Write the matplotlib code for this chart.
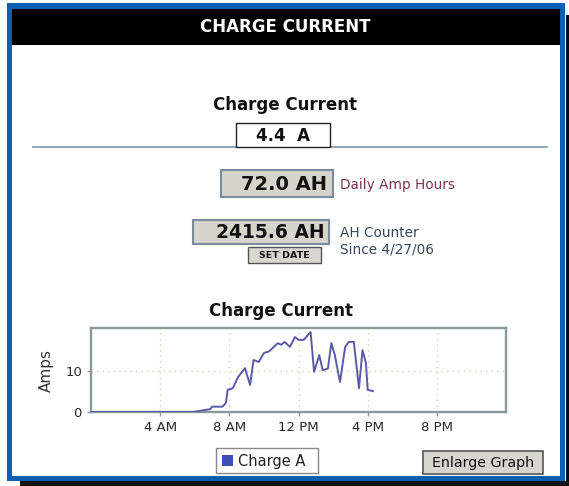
import matplotlib
matplotlib.use("Agg")
import matplotlib.pyplot as plt
from matplotlib.patches import Rectangle

# ---- data ----
hours = [0, 5.9, 6.9, 7.0, 7.6, 7.8, 7.9, 8.2, 8.5, 8.9, 9.2, 9.4, 9.7, 10.0, 10.3,
         10.8, 11.0, 11.2, 11.5, 11.8, 12.0, 12.3, 12.7, 12.9, 13.2, 13.4, 13.7,
         13.9, 14.1, 14.4, 14.7, 14.9, 15.2, 15.5, 15.7, 15.9, 16.0, 16.3]
amps = [0, 0, 0.7, 1.3, 1.3, 2.2, 5.4, 5.8, 8.5, 10.7, 6.6, 12.7, 12.2, 14.4, 14.8,
        16.8, 16.4, 17.1, 15.9, 18.3, 17.6, 17.6, 19.5, 9.8, 13.9, 10.2, 10.6,
        16.8, 13.9, 7.3, 15.9, 17.1, 17.1, 5.8, 15.1, 12.0, 5.4, 5.1]
x_ticks = [4, 8, 12, 16, 20]
x_tick_labels = ["4 AM", "8 AM", "12 PM", "4 PM", "8 PM"]
y_ticks = [0, 10]
panel_title = "CHARGE CURRENT"
current_label = "Charge Current"
current_value = "4.4  A"
daily_ah = "72.0 AH"
daily_label = "Daily Amp Hours"
counter_ah = "2415.6 AH"
counter_label = ["AH Counter", "Since 4/27/06"]
series_name = "Charge A"

W, H = 569, 486
fig = plt.figure(figsize=(W / 100, H / 100), dpi=100)
fig.patch.set_facecolor("white")

bg = fig.add_axes([0, 0, 1, 1])
bg.set_xlim(0, W)
bg.set_ylim(H, 0)
bg.axis("off")

def rect(x0, y0, x1, y1, fc, ec="none", lw=0, z=1):
    bg.add_patch(Rectangle((x0, y0), x1 - x0, y1 - y0, facecolor=fc,
                           edgecolor=ec, linewidth=lw, zorder=z))

# shadow
rect(566, 15, 569, 486, "#0a0a0a")
rect(20, 481, 569, 486, "#111111")
# blue frame
rect(7, 3, 565, 481, "#0d5fb0")
rect(12, 9, 560, 476, "white")
# header
rect(12, 9, 560, 45, "black")
bg.text(285, 27, panel_title, color="white", fontsize=12, fontweight="bold",
        ha="center", va="center", zorder=3)

# current
bg.text(285, 105, current_label, color="#111111", fontsize=12, fontweight="bold",
        ha="center", va="center", zorder=3)
bg.plot([33, 547], [147, 147], color="#7d93b0", lw=1.2, zorder=2)
rect(236, 123, 330, 147, "white", ec="#222222", lw=1, z=3)
bg.text(283, 136, current_value, color="#111111", fontsize=12, fontweight="bold",
        ha="center", va="center", zorder=4)

# daily amp hours
rect(221, 170, 333, 197, "#d5d5cc", ec="#7a8c9c", lw=1.5, z=3)
bg.text(327, 184, daily_ah, color="#111111", fontsize=14, fontweight="bold",
        ha="right", va="center", zorder=4)
bg.text(340, 185, daily_label, color="#7a3450", fontsize=9.8, ha="left",
        va="center", zorder=4)

# counter
rect(193, 220, 329, 244, "#d5d5cc", ec="#7a8c9c", lw=1.5, z=3)
bg.text(325, 232, counter_ah, color="#111111", fontsize=13.5, fontweight="bold",
        ha="right", va="center", zorder=4)
bg.text(340, 233, counter_label[0], color="#3a4658", fontsize=9.8, ha="left",
        va="center", zorder=4)
bg.text(340, 249, counter_label[1], color="#3a4658", fontsize=9.8, ha="left",
        va="center", zorder=4)
rect(248, 247, 321, 263, "#d8d8d0", ec="#555555", lw=1, z=3)
bg.text(284.5, 255.5, "SET DATE", color="#111111", fontsize=6.8, fontweight="bold",
        ha="center", va="center", zorder=4)

# chart title
bg.text(281, 311, current_label, color="#111111", fontsize=12, fontweight="bold",
        ha="center", va="center", zorder=3)

# legend and button
rect(216, 448, 318, 473, "white", ec="#8a8a8a", lw=1, z=3)
rect(222, 455, 233, 466, "#3d4fb5", z=4)
bg.text(238, 461, series_name, color="#222222", fontsize=10.5, ha="left",
        va="center", zorder=4)
rect(423, 451, 543, 474, "#d6d6ce", ec="#555555", lw=1.2, z=3)
bg.text(483, 463, "Enlarge Graph", color="#111111", fontsize=10.3, ha="center",
        va="center", zorder=4)

# plot axes
left, right, top, bottom = 91, 506, 328, 412
ax = fig.add_axes([left / W, 1 - bottom / H, (right - left) / W, (bottom - top) / H])
ax.set_facecolor("white")
ax.plot(hours, amps, color="#5a5aa8", lw=1.4, zorder=3)
ax.set_xlim(0, 24)
ax.set_ylim(0, 20.5)
ax.set_xticks(x_ticks)
ax.set_xticklabels(x_tick_labels)
ax.set_yticks(y_ticks)
for s in ax.spines.values():
    s.set_color("#8a9a9a")
    s.set_linewidth(1.7)
ax.grid(True, color="#d8cfa8", linestyle=(0, (1, 3)), lw=1)
ax.tick_params(axis="both", colors="#8a9a9a", length=3, width=1,
               labelcolor="#2a2a2a", labelsize=9.5)
ax.set_ylabel("Amps", fontsize=11, color="#333333", labelpad=8)

fig.savefig("out.png", dpi=100)
